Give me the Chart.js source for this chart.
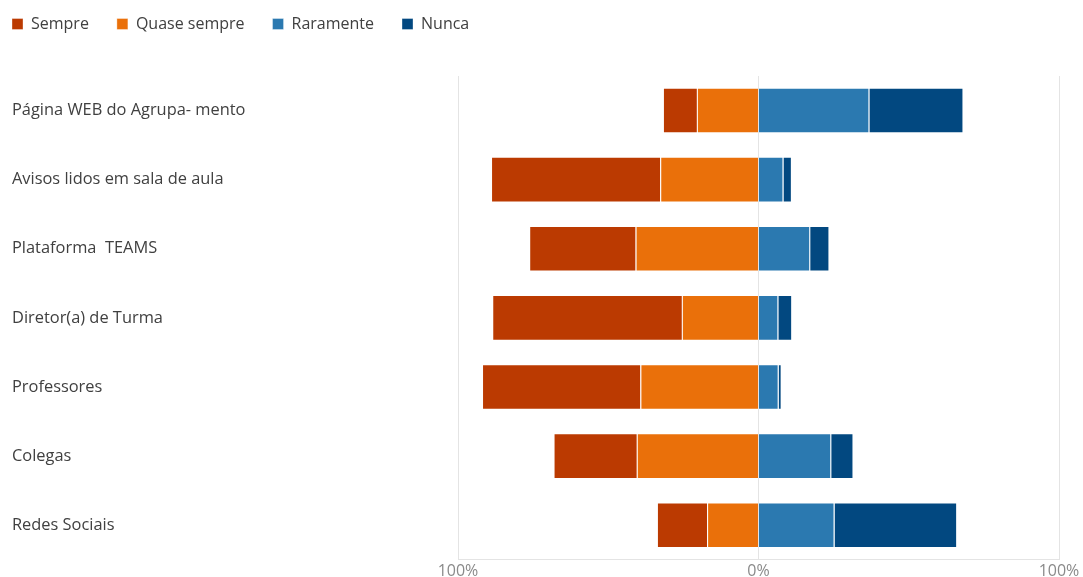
<!DOCTYPE html>
<html>
<head>
<meta charset="utf-8">
<script src="https://cdn.jsdelivr.net/npm/chart.js@4/dist/chart.umd.min.js"></script>
<style>
  html, body { margin: 0; padding: 0; background: #fff; }
  #wrap { width: 1083px; height: 577px; position: relative; }
</style>
</head>
<body>
<div id="wrap"><canvas id="chart"></canvas></div>
<script>
// ================= DATA =================
const categories = [
  "Página WEB do Agrupa- mento",
  "Avisos lidos em sala de aula",
  "Plataforma  TEAMS",
  "Diretor(a) de Turma",
  "Professores",
  "Colegas",
  "Redes Sociais"
];

// percentages (left side drawn as negatives)
const sempre      = [11.3, 56.3, 35.4, 63.1, 52.7, 27.7, 16.7];
const quaseSempre = [20.5, 32.7, 40.9, 25.5, 39.3, 40.5, 17.1];
const raramente   = [36.9,  8.3, 17.2,  6.6,  6.7, 24.2, 25.3];
const nunca       = [31.3,  2.8,  6.4,  4.6,  1.0,  7.4, 40.8];

const tickValues = [-100, 0, 100];

const FONT = '"Segoe UI", "Open Sans", sans-serif';
const TEXT = "#404040";
const GRID = "#e4e4e4";

// ================= LEGEND TWEAKS =================
// extra room below the legend, and pull it to the top-left corner
const legendGap = {
  id: "legendGap",
  beforeInit(chart) {
    const origFit = chart.legend.fit;
    chart.legend.fit = function () {
      origFit.bind(chart.legend)();
      this.height += 22;
    };
  },
  afterLayout(chart) {
    const lg = chart.legend;
    lg.left -= 28; lg.right -= 28;
    lg.top -= 12; lg.bottom -= 12;
  }
};

// ================= CHART =================
new Chart(document.getElementById("chart"), {
  type: "bar",
  data: {
    labels: categories,
    datasets: [
      // order controls stacking: inner segments first
      { label: "Sempre", data: sempre.map(v => -v), backgroundColor: "#bb3a01", order: 2 },
      { label: "Quase sempre", data: quaseSempre.map(v => -v), backgroundColor: "#ea700a", order: 1 },
      { label: "Raramente", data: raramente, backgroundColor: "#2b79b0", order: 1 },
      { label: "Nunca", data: nunca, backgroundColor: "#024880", order: 2 }
    ].map(ds => Object.assign(ds, {
      borderColor: "rgba(255,255,255,0.35)",
      borderWidth: 1,
      barPercentage: 0.66,
      categoryPercentage: 1
    }))
  },
  options: {
    indexAxis: "y",
    responsive: true,
    maintainAspectRatio: false,
    animation: false,
    layout: { padding: { left: 12, right: 24, top: 0, bottom: -6 } },
    plugins: {
      tooltip: { enabled: false },
      legend: {
        position: "top",
        align: "start",
        labels: {
          boxWidth: 11,
          boxHeight: 11,
          padding: 28,
          color: TEXT,
          font: { family: FONT, size: 16 },
          sort: (a, b) => a.datasetIndex - b.datasetIndex
        }
      }
    },
    scales: {
      x: {
        stacked: true,
        min: -100,
        max: 100,
        afterBuildTicks(axis) {
          axis.ticks = tickValues.map(v => ({ value: v }));
        },
        ticks: {
          color: "#8a8a8a",
          padding: 2,
          font: { family: FONT, size: 16 },
          callback: v => Math.abs(v) + "%"
        },
        grid: { color: GRID, drawTicks: false },
        border: { color: GRID }
      },
      y: {
        stacked: true,
        afterFit(axis) { axis.width = 446; },
        ticks: {
          crossAlign: "far",
          color: TEXT,
          font: { family: FONT, size: 16.4 }
        },
        grid: { display: false },
        border: { display: false }
      }
    }
  },
  plugins: [legendGap]
});
</script>
</body>
</html>
